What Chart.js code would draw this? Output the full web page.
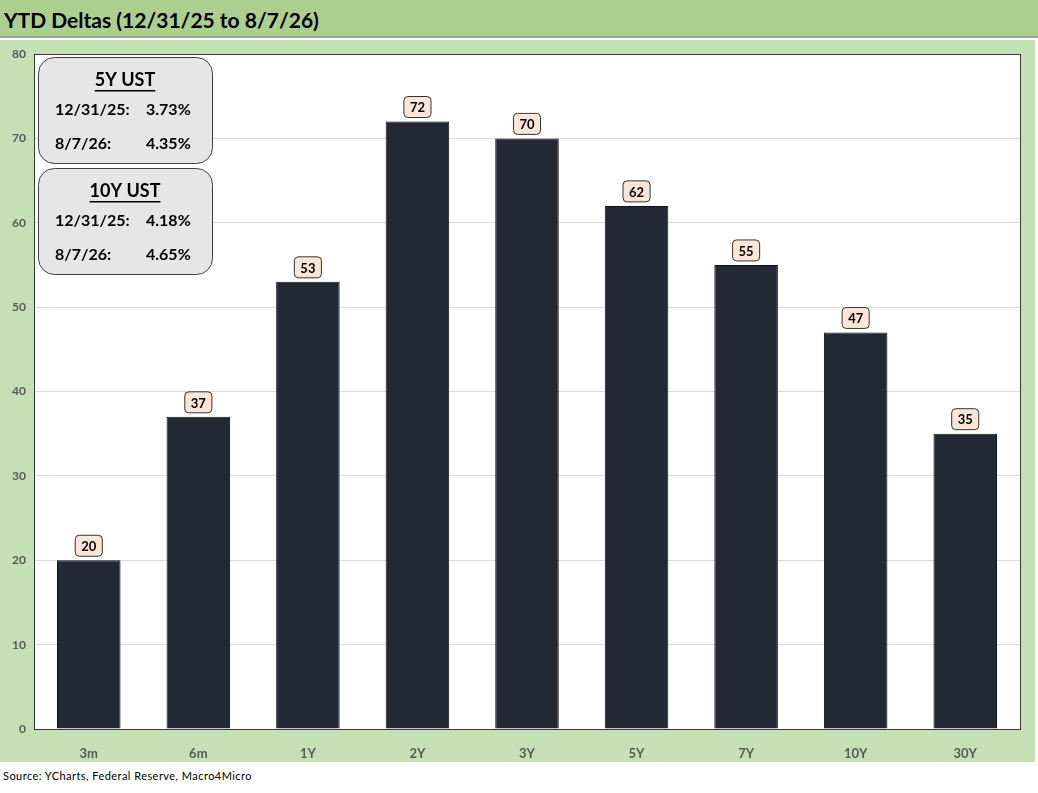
<!DOCTYPE html>
<html>
<head>
    <title>YTD Deltas</title>
    <script src="https://cdn.jsdelivr.net/npm/chart.js"></script>
    <style>
        body { margin: 0; background: #fff; width: 1038px; height: 793px; position: relative; overflow: hidden; }
        #title { position: absolute; left: 0; top: 0; width: 1038px; height: 38px; background: #abcf8f;
                 border-bottom: 2px solid #9ea99a; font: bold 21px Lato, sans-serif; color: #000;
                 line-height: 40px; padding-left: 4px; box-sizing: border-box; }
        #panel { position: absolute; left: 0; top: 40px; width: 1035px; height: 722px; background: #c6e0b5; }
        #source { position: absolute; left: 3px; top: 769px; font: 11px Lato, sans-serif; color: #000; letter-spacing: 0.45px; }
    </style>
</head>
<body>
    <div id="title">YTD Deltas (12/31/25 to 8/7/26)</div>
    <div id="panel"><canvas id="deltaChart" width="1035" height="722"></canvas></div>
    <div id="source">Source: YCharts, Federal Reserve, Macro4Micro</div>

    <script>
        // chart data
        const tenors = ['3m', '6m', '1Y', '2Y', '3Y', '5Y', '7Y', '10Y', '30Y'];
        const deltas = [20, 37, 53, 72, 70, 62, 55, 47, 35];
        const yTicks = [0, 10, 20, 30, 40, 50, 60, 70, 80];

        // the two grey note boxes in the corner
        const boxTitles = ['5Y UST', '10Y UST'];
        const boxDates = ['12/31/25:', '8/7/26:'];
        const boxValues = [['3.73%', '4.35%'], ['4.18%', '4.65%']];

        function roundRect(ctx, x, y, w, h, r) {
            ctx.beginPath();
            ctx.moveTo(x + r, y);
            ctx.arcTo(x + w, y, x + w, y + h, r);
            ctx.arcTo(x + w, y + h, x, y + h, r);
            ctx.arcTo(x, y + h, x, y, r);
            ctx.arcTo(x, y, x + w, y, r);
            ctx.closePath();
        }

        const extras = {
            id: 'extras',
            beforeDraw(chart) {
                const a = chart.chartArea;
                chart.ctx.save();
                chart.ctx.fillStyle = '#fff';
                chart.ctx.fillRect(a.left, a.top, a.right - a.left, a.bottom - a.top);
                chart.ctx.restore();
            },
            afterDatasetsDraw(chart) {
                const ctx = chart.ctx;
                const area = chart.chartArea;
                ctx.save();

                // plot border
                ctx.strokeStyle = '#3a3a3a';
                ctx.lineWidth = 1;
                ctx.strokeRect(area.left + 0.5, area.top + 0.5, area.right - area.left, area.bottom - area.top);

                // value labels above bars
                ctx.font = 'bold 13px Lato, sans-serif';
                ctx.textAlign = 'center';
                ctx.textBaseline = 'middle';
                chart.getDatasetMeta(0).data.forEach((bar, i) => {
                    const txt = String(deltas[i]);
                    const w = ctx.measureText(txt).width + 12;
                    const h = 21;
                    const bx = bar.x - w / 2, by = bar.y - 4 - h;
                    roundRect(ctx, bx, by, w, h, 4);
                    ctx.fillStyle = '#fbe5d6';
                    ctx.fill();
                    ctx.strokeStyle = '#333';
                    ctx.stroke();
                    ctx.fillStyle = '#000';
                    ctx.fillText(txt, bar.x, by + h / 2 + 1);
                });

                // note boxes
                boxTitles.forEach((t, k) => {
                    const bx = area.left + 4, by = area.top + 3 + k * 111, bw = 174, bh = 106;
                    roundRect(ctx, bx + 0.5, by + 0.5, bw, bh, 16);
                    ctx.fillStyle = '#e7e6e6';
                    ctx.fill();
                    ctx.strokeStyle = '#404040';
                    ctx.stroke();

                    ctx.fillStyle = '#000';
                    ctx.font = 'bold 18px Lato, sans-serif';
                    ctx.textAlign = 'center';
                    ctx.textBaseline = 'middle';
                    const cx = bx + bw / 2;
                    ctx.fillText(t, cx, by + 23);
                    const tw = ctx.measureText(t).width;
                    ctx.fillRect(cx - tw / 2, by + 33, tw, 1.5);

                    ctx.font = 'bold 16px Lato, sans-serif';
                    ctx.textAlign = 'left';
                    boxDates.forEach((d, j) => {
                        const ry = by + 53 + j * 34;
                        ctx.fillText(d, bx + 17, ry);
                        ctx.fillText(boxValues[k][j], bx + 108, ry);
                    });
                });
                ctx.restore();
            }
        };

        const ctx = document.getElementById('deltaChart').getContext('2d');
        new Chart(ctx, {
            type: 'bar',
            data: {
                labels: tenors,
                datasets: [{
                    label: 'YTD Delta',
                    data: deltas,
                    backgroundColor: '#222834',
                    borderColor: '#111',
                    borderWidth: 1,
                    categoryPercentage: 1,
                    barPercentage: 0.58
                }]
            },
            options: {
                responsive: false,
                animation: false,
                layout: { padding: { left: 4, top: 0, right: 15, bottom: 0 } },
                plugins: { legend: { display: false }, tooltip: { enabled: false } },
                scales: {
                    x: {
                        grid: { display: false },
                        border: { color: '#888' },
                        ticks: { color: '#595959', font: { family: 'Lato', weight: 'bold', size: 13 }, padding: 9 },
                        afterFit: s => { s.height = 33; }
                    },
                    y: {
                        min: 0,
                        max: 80,
                        afterBuildTicks: s => { s.ticks = yTicks.map(v => ({ value: v })); },
                        grid: { color: '#d9d9d9', drawTicks: false },
                        border: { display: false },
                        ticks: { color: '#595959', font: { family: 'Lato', weight: 'bold', size: 12, lineHeight: 1 }, padding: 8 },
                        afterFit: s => { s.width = 30; }
                    }
                }
            },
            plugins: [extras]
        });
    </script>
</body>
</html>
